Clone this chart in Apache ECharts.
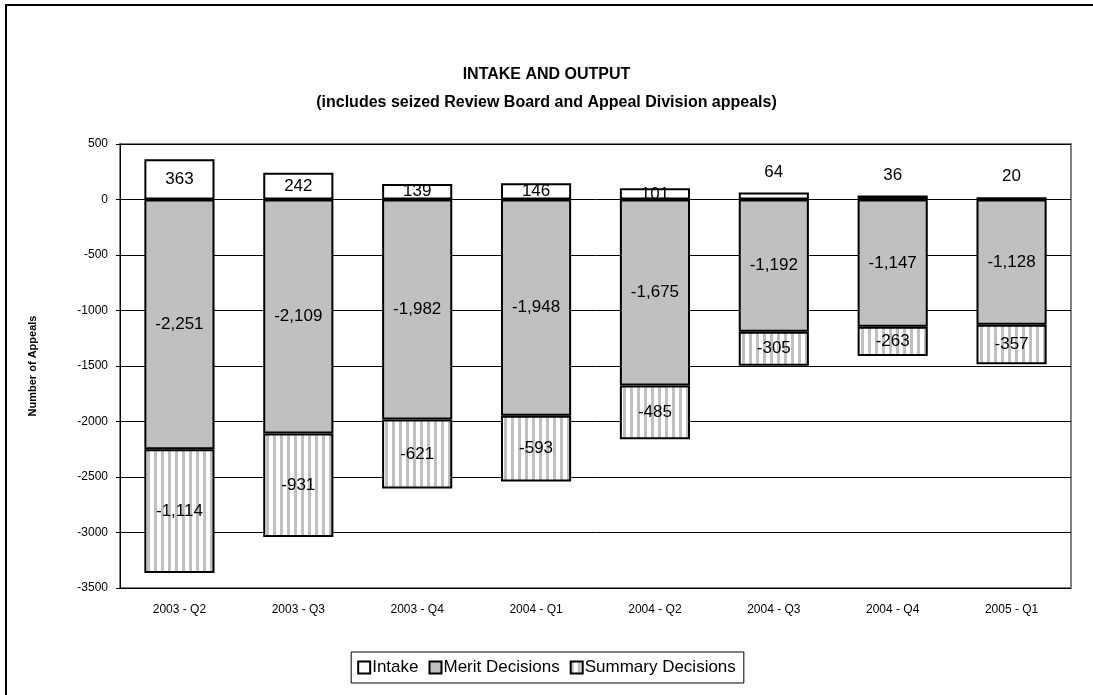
<!DOCTYPE html>
<html>
<head>
<meta charset="utf-8">
<script src="https://cdn.jsdelivr.net/npm/echarts@6/dist/echarts.min.js"></script>
<style>
html,body{margin:0;padding:0;background:#fff;}
#c{width:1093px;height:695px;}
</style>
</head>
<body>
<div id="c"></div>
<script>
const categories = ['2003 - Q2','2003 - Q3','2003 - Q4','2004 - Q1','2004 - Q2','2004 - Q3','2004 - Q4','2005 - Q1'];
const intake = [363, 242, 139, 146, 101, 64, 36, 20];
const merit = [-2251, -2109, -1982, -1948, -1675, -1192, -1147, -1128];
const summary = [-1114, -931, -621, -593, -485, -305, -263, -357];
const titleLines = ['INTAKE AND OUTPUT', '(includes seized Review Board and Appeal Division appeals)'];

function stripe() {
  const c = document.createElement('canvas');
  c.width = 7; c.height = 7;
  const g = c.getContext('2d');
  g.fillStyle = '#ffffff'; g.fillRect(0, 0, 7, 7);
  g.fillStyle = '#c0c0c0'; g.fillRect(0, 0, 3, 7);
  return c;
}
const stripeFill = { image: stripe(), repeat: 'repeat' };

function fmt(v) {
  const s = Math.abs(v).toLocaleString('en-US');
  return (v < 0 ? '-' : '') + s;
}

const chart = echarts.init(document.getElementById('c'), null, { renderer: 'canvas' });
const labelFont = { fontFamily: 'Liberation Sans, Arial', fontSize: 17, color: '#000' };
const titleStyle = { fontFamily: 'Liberation Sans, Arial', fontSize: 16, fontWeight: 'bold', color: '#000' };

chart.setOption({
  animation: false,
  backgroundColor: '#fff',
  title: [
    { text: titleLines[0], left: 'center', top: 67, textStyle: titleStyle, padding: 0 },
    { text: titleLines[1], left: 'center', top: 95, textStyle: titleStyle, padding: 0 }
  ],
  graphic: [
    { type: 'rect', shape: { x: 6, y: 5, width: 1200, height: 800 }, style: { fill: 'none', stroke: '#000', lineWidth: 2 }, z: 100 }
  ],
  legend: {
    bottom: 12,
    left: 'center',
    data: ['Intake', 'Merit Decisions', 'Summary Decisions'],
    itemWidth: 12, itemHeight: 12, itemGap: 10,
    borderColor: '#000', borderWidth: 1, padding: [7, 8, 7, 6],
    textStyle: { fontFamily: 'Liberation Sans, Arial', fontSize: 17, color: '#000', padding: [0, 0, 0, -3] },
    icon: 'rect'
  },
  grid: { left: 120, right: 22, top: 144, bottom: 107, show: true, borderColor: '#808080', borderWidth: 2 },
  xAxis: {
    type: 'category',
    data: categories,
    axisLine: { show: false },
    axisTick: { show: false },
    axisLabel: { fontFamily: 'Liberation Sans, Arial', fontSize: 12, color: '#000', margin: 16 }
  },
  yAxis: {
    type: 'value',
    min: -3500, max: 500, interval: 500,
    name: 'Number of Appeals',
    nameLocation: 'middle',
    nameGap: 82,
    nameTextStyle: { fontFamily: 'Liberation Sans, Arial', fontSize: 11, fontWeight: 'bold', color: '#000' },
    axisLine: { show: true, onZero: false, lineStyle: { color: '#000', width: 1 } },
    axisTick: { show: true, length: 4, lineStyle: { color: '#000' } },
    axisLabel: { fontFamily: 'Liberation Sans, Arial', fontSize: 12, color: '#000', margin: 12, formatter: v => String(v) },
    splitLine: { show: true, lineStyle: { color: '#000', width: 1 } }
  },
  series: [
    {
      name: 'Intake', type: 'bar', stack: 'a', barWidth: '59%',
      data: intake.map((v, i) => ({
        value: v,
        label: i >= 5 ? { position: 'top', distance: 12 } : { position: 'inside' }
      })),
      itemStyle: { color: '#ffffff', borderColor: '#000', borderWidth: 2 },
      label: Object.assign({ show: true, formatter: p => fmt(p.value) }, labelFont)
    },
    {
      name: 'Merit Decisions', type: 'bar', stack: 'a', barWidth: '59%',
      data: merit,
      itemStyle: { color: '#c0c0c0', borderColor: '#000', borderWidth: 2 },
      label: Object.assign({ show: true, position: 'inside', formatter: p => fmt(p.value) }, labelFont)
    },
    {
      name: 'Summary Decisions', type: 'bar', stack: 'a', barWidth: '59%',
      data: summary,
      itemStyle: { color: stripeFill, borderColor: '#000', borderWidth: 2 },
      label: Object.assign({ show: true, position: 'inside', formatter: p => fmt(p.value) }, labelFont)
    }
  ]
});
</script>
</body>
</html>
